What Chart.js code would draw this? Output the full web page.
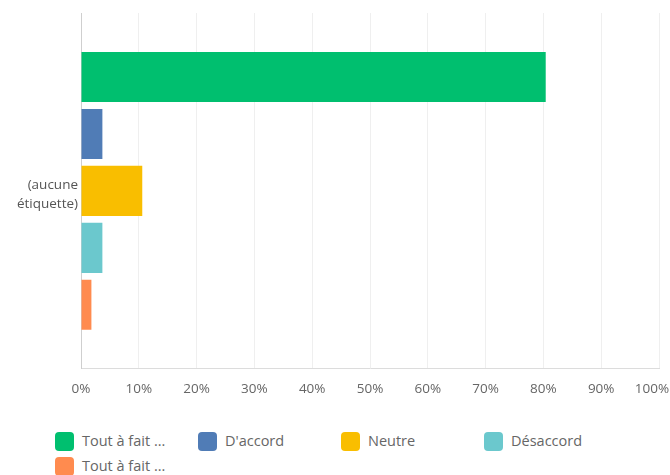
<!DOCTYPE html>
<html>
<head>
<meta charset="utf-8">
<script src="https://cdn.jsdelivr.net/npm/chart.js@4"></script>
<style>
  body { margin: 0; background: #fff; width: 670px; height: 475px; overflow: hidden; position: relative; font-family: "Open Sans", sans-serif; }
  #wrap { position: absolute; left: 0; top: 0; width: 670px; height: 409px; }
  #legend { position: absolute; left: 55px; top: 431px; width: 615px; }
  .item { position: absolute; height: 20px; line-height: 20px; font-size: 14.5px; color: #666; white-space: nowrap; }
  .box { position: absolute; left: 0; top: 1px; width: 19px; height: 19px; border-radius: 4px; }
  .txt { position: absolute; left: 27px; top: 0; }
</style>
</head>
<body>
<div id="wrap"><canvas id="myChart"></canvas></div>
<div id="legend"></div>
<script>
const categories = [['(aucune', 'étiquette)']];
const answers = ["Tout à fait d'accord", "D'accord", 'Neutre', 'Désaccord', 'Tout à fait en désaccord'];
const percents = [80.4, 3.7, 10.6, 3.7, 1.8];
const colors = ['#00bf6f', '#507cb6', '#f9be00', '#6bc8cd', '#ff8b4f'];
const xTicks = [0, 10, 20, 30, 40, 50, 60, 70, 80, 90, 100];

const ctx = document.querySelector('#myChart').getContext('2d');

const myChart = new Chart(ctx, {
    type: 'bar',
    data: {
        labels: categories,
        datasets: answers.map((a, i) => ({
            label: a,
            data: [percents[i]],
            backgroundColor: colors[i],
            borderWidth: 0,
            barPercentage: 0.88,
            categoryPercentage: 0.8,
        })),
    },
    options: {
        indexAxis: 'y',
        responsive: true,
        maintainAspectRatio: false,
        animation: false,
        layout: { padding: { top: 13, left: 0, right: 0, bottom: 0 } },
        plugins: {
            legend: { display: false },
            tooltip: { enabled: false },
        },
        scales: {
            x: {
                min: 0,
                max: 100,
                afterBuildTicks: (scale) => {
                    scale.ticks = xTicks.map(v => ({ value: v }));
                },
                afterFit: (scale) => {
                    scale.paddingRight = 11;
                },
                grid: { color: '#efefef', drawTicks: false },
                border: { color: '#dcdcdc' },
                ticks: {
                    padding: 12,
                    color: '#666',
                    font: { family: 'Open Sans', size: 13.5 },
                    maxRotation: 0,
                    autoSkip: false,
                    // last label sits inside the canvas like the original
                    callback: (v) => v === 100 ? v + '%\u00a0\u00a0\u00a0\u00a0' : v + '%',
                },
            },
            y: {
                afterFit: (scale) => {
                    scale.width = 81;
                    scale.paddingTop = 0;
                    scale.paddingBottom = 0;
                },
                grid: { display: false, drawTicks: false },
                border: { color: '#cfcfcf' },
                ticks: {
                    padding: 3,
                    labelOffset: 4,
                    color: '#555',
                    font: { family: 'Open Sans', size: 13.5, lineHeight: 1.4 },
                },
            },
        },
    },
});

// html legend in fixed columns
const legend = document.getElementById('legend');
const short = (s) => s.length > 12 ? s.slice(0, 11) + ' ...' : s;
myChart.data.datasets.forEach((ds, i) => {
    const item = document.createElement('div');
    item.className = 'item';
    item.style.left = (i % 4) * 143 + 'px';
    item.style.top = Math.floor(i / 4) * 25 + 'px';
    item.innerHTML = '<span class="box" style="background:' + ds.backgroundColor + '"></span><span class="txt">' + short(ds.label) + '</span>';
    legend.appendChild(item);
});
</script>
</body>
</html>
